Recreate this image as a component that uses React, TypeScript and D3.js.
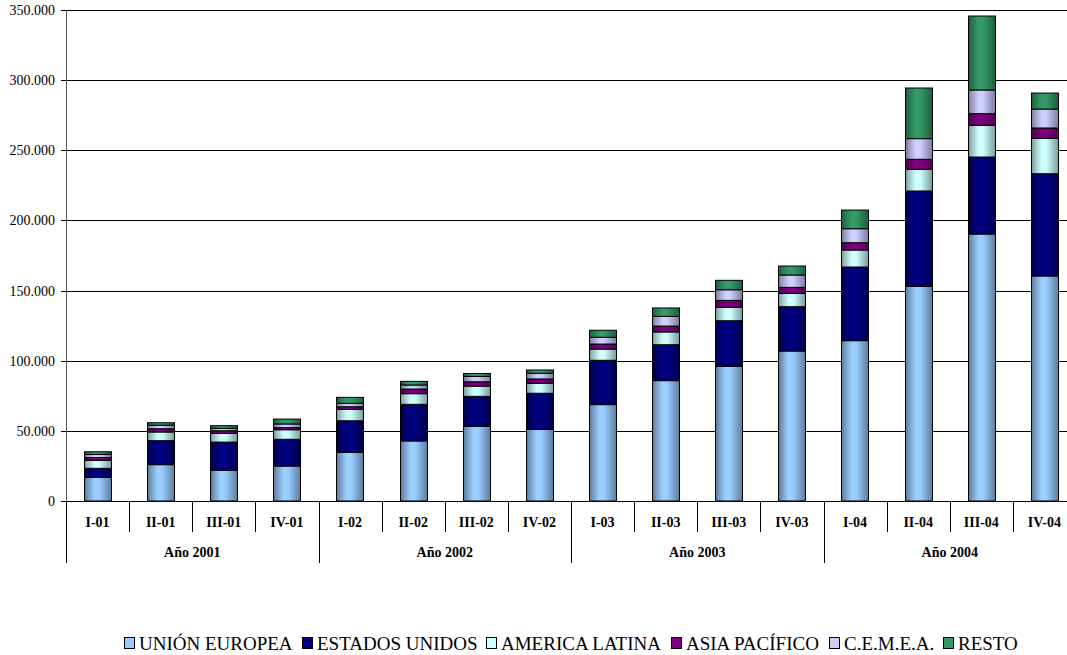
import * as d3 from 'd3';
import React from 'react';

const categories = ['I-01', 'II-01', 'III-01', 'IV-01', 'I-02', 'II-02', 'III-02', 'IV-02', 'I-03', 'II-03', 'III-03', 'IV-03', 'I-04', 'II-04', 'III-04', 'IV-04'];
const years = ['Año 2001', 'Año 2002', 'Año 2003', 'Año 2004'];
const seriesNames = ['UNIÓN EUROPEA', 'ESTADOS UNIDOS', 'AMERICA LATINA', 'ASIA PACÍFICO', 'C.E.M.E.A.', 'RESTO'];
const seriesColors = ['#99CCFF', '#000080', '#CCFFFF', '#800080', '#CCCCFF', '#339966'];

const unionEuropea = [16900, 25900, 21900, 24900, 34700, 42800, 53200, 51100, 68700, 85800, 96000, 106900, 114300, 153000, 190300, 160400];
const estadosUnidos = [6400, 17100, 20100, 19100, 22500, 26100, 21400, 25700, 31600, 25600, 32500, 31600, 52500, 68000, 54900, 72900];
const americaLatina = [5700, 6200, 6200, 6800, 8100, 7600, 7300, 7100, 8000, 9100, 9500, 9500, 12100, 15400, 22600, 25200];
const asiaPacifico = [2000, 2300, 1900, 1500, 1900, 3300, 3100, 3100, 3600, 4200, 5000, 4300, 5200, 7200, 8300, 7400];
const cemea = [2200, 2500, 1700, 2600, 2400, 2900, 3800, 4000, 4800, 6900, 7600, 8800, 10000, 14700, 16900, 13500];
const resto = [1900, 1800, 1900, 3500, 4300, 2600, 2100, 2400, 5000, 6000, 6700, 6400, 13300, 36100, 52700, 11400];

const yTicks = [0, 50000, 100000, 150000, 200000, 250000, 300000, 350000];

const FONT = '"Liberation Serif"';
const W = 1067;
const H = 655;
const margin = { top: 10, left: 66, bottom: 154 };
const plotRight = 1076; // plot runs a little past the right edge of the picture
const plotBottom = H - margin.bottom;

const locale = d3.formatLocale({ decimal: ',', thousands: '.', grouping: [3], currency: ['', '€'] });
const fmt = locale.format(',');

// measure legend text with canvas
const measure = (txt: string, size: number) => {
  const ctx = document.createElement('canvas').getContext('2d')!;
  ctx.font = `${size}px "Liberation Serif"`;
  return ctx.measureText(txt).width;
};

const App: React.FC = () => {
  const table = categories.map((c, i) => ({
    cat: c,
    s0: unionEuropea[i],
    s1: estadosUnidos[i],
    s2: americaLatina[i],
    s3: asiaPacifico[i],
    s4: cemea[i],
    s5: resto[i],
  }));
  const stacked = d3.stack<any>().keys(['s0', 's1', 's2', 's3', 's4', 's5'])(table);

  const x = d3.scaleBand().domain(categories).range([margin.left, plotRight]).paddingInner(0.57).paddingOuter(0.285);
  const y = d3.scaleLinear().domain([0, 350000]).range([plotBottom, margin.top]);
  const step = x.step();
  const bw = Math.round(x.bandwidth());

  // legend layout
  const legendSize = 19;
  const sw = 15;
  const gap = 9;
  const widths = seriesNames.map((n) => sw + measure(n, legendSize));
  const total = d3.sum(widths) + gap * (widths.length - 1);
  const legendX: number[] = [];
  let cx = (margin.left + plotRight) / 2 - total / 2;
  widths.forEach((w) => {
    legendX.push(cx);
    cx += w + gap;
  });

  const gradStops = (c: string): [number, string][] => {
    const b = d3.color(c)!;
    return [
      [0, b.darker(1.5).formatHex()],
      [0.12, b.darker(0.8).formatHex()],
      [0.38, b.brighter(0.05).formatHex()],
      [0.55, b.formatHex()],
      [0.8, b.darker(0.7).formatHex()],
      [1, b.darker(1.4).formatHex()],
    ];
  };

  return (
    <svg width={W} height={H} style={{ position: 'absolute', left: 0, top: 0 }}>
      <defs>
        {seriesColors.map((c, i) => (
          <linearGradient key={i} id={`grad${i}`} x1={0} x2={1} y1={0} y2={0}>
            {gradStops(c).map(([o, col]) => (
              <stop key={o} offset={o} stopColor={col} />
            ))}
          </linearGradient>
        ))}
      </defs>

      {/* gridlines */}
      {yTicks.slice(1).map((t) => (
        <line key={t} x1={margin.left} x2={plotRight} y1={Math.round(y(t)) + 0.5} y2={Math.round(y(t)) + 0.5} stroke="#000" />
      ))}

      {/* y axis */}
      <line x1={margin.left + 0.5} x2={margin.left + 0.5} y1={margin.top} y2={plotBottom + 62} stroke="#555" />
      {yTicks.map((t) => (
        <g key={t} transform={`translate(0,${Math.round(y(t)) + 0.5})`}>
          <line x1={margin.left - 5} x2={margin.left} stroke="#000" />
          <text x={margin.left - 11} dy="0.32em" textAnchor="end" style={{ fontFamily: FONT, fontSize: 14 }}>
            {fmt(t)}
          </text>
        </g>
      ))}

      {/* bars */}
      {stacked.map((s, si) => (
        <g key={si} fill={`url(#grad${si})`}>
          {s.map((d: any) => (
            <rect
              key={d.data.cat}
              x={Math.round(x(d.data.cat)!) + 0.5}
              width={bw}
              y={y(d[1])}
              height={y(d[0]) - y(d[1])}
              stroke="#000"
            />
          ))}
        </g>
      ))}

      {/* x axis */}
      <line x1={margin.left} x2={plotRight} y1={plotBottom + 0.5} y2={plotBottom + 0.5} stroke="#000" />
      {d3.range(categories.length + 1).map((i) => (
        <line
          key={i}
          x1={Math.round(margin.left + i * step) + 0.5}
          x2={Math.round(margin.left + i * step) + 0.5}
          y1={plotBottom}
          y2={i % 4 === 0 ? plotBottom + 62 : plotBottom + 31}
          stroke="#000"
        />
      ))}
      {categories.map((c) => (
        <text
          key={c}
          x={x(c)! + x.bandwidth() / 2}
          y={plotBottom + 26}
          textAnchor="middle"
          style={{ fontFamily: FONT, fontWeight: 'bold', fontSize: 14 }}
        >
          {c}
        </text>
      ))}
      {years.map((yr, i) => (
        <text
          key={yr}
          x={margin.left + (i * 4 + 2) * step}
          y={plotBottom + 56}
          textAnchor="middle"
          style={{ fontFamily: FONT, fontWeight: 'bold', fontSize: 14 }}
        >
          {yr}
        </text>
      ))}

      {/* legend */}
      {seriesNames.map((n, i) => (
        <g key={n} transform={`translate(${Math.round(legendX[i])},650)`}>
          <rect x={0.5} y={-12.5} width={10} height={11} fill={seriesColors[i]} stroke="#000" />
          <text x={sw} style={{ fontFamily: FONT, fontSize: legendSize }}>
            {n}
          </text>
        </g>
      ))}
    </svg>
  );
};

export default App;
